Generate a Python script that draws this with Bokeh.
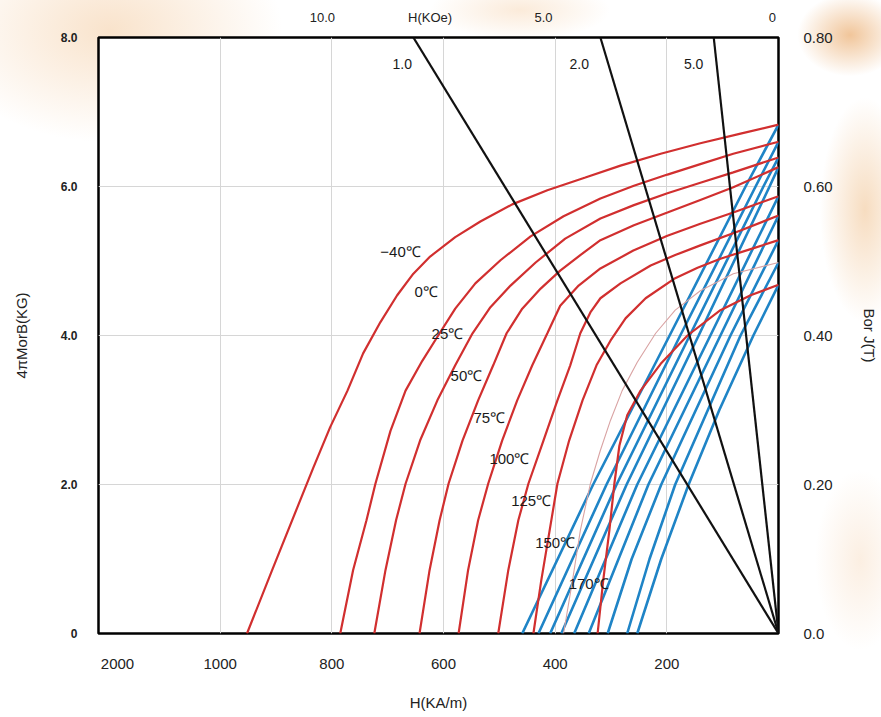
from bokeh.plotting import figure
from bokeh.models import Range1d, LinearAxis, FixedTicker
from bokeh.core.properties import value
from bokeh.embed import file_html
from bokeh.resources import INLINE

# ---------------- data (H in kA/m, J / B in kG) ----------------
temps = ["−40℃", "0℃", "25℃", "50℃", "75℃", "100℃", "125℃", "150℃", "170℃"]

# intrinsic (J) demagnetisation curves, red
j_m40_h = [952, 907, 862, 833, 803, 772, 744, 713, 683, 654, 624, 579, 534, 477, 414, 346, 283, 211, 140, 68, 0]
j_m40_j = [0, 0.85, 1.69, 2.23, 2.77, 3.26, 3.76, 4.18, 4.54, 4.83, 5.06, 5.32, 5.53, 5.76, 5.95, 6.12, 6.28, 6.44, 6.58, 6.71, 6.83]
j_0_h = [785, 762, 738, 722, 695, 668, 638, 607, 579, 543, 498, 444, 385, 319, 259, 199, 140, 81, 0]
j_0_j = [0, 0.85, 1.52, 2.01, 2.72, 3.26, 3.66, 4.03, 4.36, 4.70, 5.01, 5.33, 5.60, 5.84, 6.01, 6.16, 6.30, 6.44, 6.60]
j_25_h = [724, 704, 685, 668, 642, 611, 579, 548, 516, 480, 435, 382, 319, 259, 199, 140, 81, 0]
j_25_j = [0, 0.85, 1.52, 2.01, 2.59, 3.13, 3.60, 4.03, 4.38, 4.67, 4.98, 5.30, 5.57, 5.75, 5.91, 6.05, 6.19, 6.39]
j_50_h = [643, 625, 607, 591, 566, 538, 511, 487, 459, 426, 391, 355, 319, 259, 199, 140, 81, 0]
j_50_j = [0, 0.85, 1.52, 2.01, 2.59, 3.13, 3.60, 4.03, 4.36, 4.63, 4.87, 5.08, 5.28, 5.48, 5.65, 5.82, 5.99, 6.26]
j_75_h = [573, 556, 538, 520, 495, 468, 441, 414, 391, 358, 319, 260, 199, 140, 81, 0]
j_75_j = [0, 0.85, 1.52, 2.01, 2.59, 3.13, 3.60, 4.03, 4.40, 4.67, 4.90, 5.14, 5.34, 5.50, 5.65, 5.87]
j_100_h = [502, 484, 466, 448, 421, 396, 373, 355, 337, 319, 283, 229, 185, 140, 68, 0]
j_100_j = [0, 0.85, 1.52, 2.01, 2.59, 3.13, 3.60, 4.03, 4.31, 4.50, 4.70, 4.94, 5.08, 5.21, 5.41, 5.61]
j_125_h = [439, 425, 410, 396, 375, 351, 326, 301, 274, 238, 185, 145, 104, 50, 0]
j_125_j = [0, 0.71, 1.38, 2.01, 2.59, 3.13, 3.60, 3.93, 4.23, 4.50, 4.77, 4.91, 5.03, 5.16, 5.28]
j_150_h = [385, 369, 355, 337, 319, 301, 280, 253, 220, 185, 140, 81, 0]
j_150_j = [0, 0.71, 1.38, 2.01, 2.46, 2.86, 3.26, 3.64, 4.03, 4.34, 4.60, 4.83, 4.98]
j_170_h = [324, 314, 303, 294, 285, 271, 247, 211, 163, 104, 50, 0]
j_170_j = [0, 0.71, 1.38, 2.01, 2.52, 2.93, 3.26, 3.62, 4.00, 4.34, 4.54, 4.68]

# normal (B) curves, blue
b_m40_h = [0, 59, 195, 332, 459]
b_m40_b = [6.83, 6.0, 4.0, 2.0, 0]
b_0_h = [0, 41, 176, 308, 430]
b_0_b = [6.60, 6.0, 4.0, 2.0, 0]
b_25_h = [0, 27, 159, 290, 409]
b_25_b = [6.39, 6.0, 4.0, 2.0, 0]
b_50_h = [0, 16, 143, 272, 389]
b_50_b = [6.26, 6.0, 4.0, 2.0, 0]
b_75_h = [0, 122, 253, 366]
b_75_b = [5.87, 4.0, 2.0, 0]
b_100_h = [0, 104, 233, 340]
b_100_b = [5.61, 4.0, 2.0, 0]
b_125_h = [0, 86, 210, 263, 306]
b_125_b = [5.28, 4.0, 2.0, 1.0, 0]
b_150_h = [0, 68, 185, 231, 271]
b_150_b = [4.98, 4.0, 2.0, 1.0, 0]
b_170_h = [0, 45, 106, 161, 210, 253]
b_170_b = [4.68, 4.0, 3.0, 2.0, 1.0, 0]

# load lines (permeance coefficients) : H where each line meets 8.0 kG
pc_labels = ["1.0", "2.0", "5.0"]
pc_top_h = [654, 319, 116]

# temperature label anchors (H, J)
label_h = [677, 631, 593, 559, 518, 482, 443, 400, 340]
label_j = [5.13, 4.59, 4.03, 3.46, 2.90, 2.35, 1.79, 1.22, 0.67]
pc_label_h = [674, 357, 152]
pc_label_j = [7.65, 7.65, 7.65]

# axis ticks
x_ticks = [1184, 1000, 800, 600, 400, 200]
x_tick_text = {1184: "2000"}
x_grid = [1000, 800, 600, 400, 200]
top_ticks = [817, 624, 421, 11]
top_tick_text = {817: "10.0", 624: "H(KOe)", 421: "5.0", 11: "0"}
y_ticks = [0, 2, 4, 6, 8]
y_tick_text = {0: "0", 2: "2.0", 4: "4.0", 6: "6.0", 8: "8.0"}
t_ticks = [0, 0.2, 0.4, 0.6, 0.8]
t_tick_text = {0: "0.0", 0.2: "0.20", 0.4: "0.40", 0.6: "0.60", 0.8: "0.80"}

j_curves = [(j_m40_h, j_m40_j), (j_0_h, j_0_j), (j_25_h, j_25_j), (j_50_h, j_50_j),
            (j_75_h, j_75_j), (j_100_h, j_100_j), (j_125_h, j_125_j),
            (j_150_h, j_150_j), (j_170_h, j_170_j)]
b_curves = [(b_m40_h, b_m40_b), (b_0_h, b_0_b), (b_25_h, b_25_b), (b_50_h, b_50_b),
            (b_75_h, b_75_b), (b_100_h, b_100_b), (b_125_h, b_125_b),
            (b_150_h, b_150_b), (b_170_h, b_170_b)]

FONT = "Liberation Sans"

p = figure(width=881, height=717, x_range=Range1d(1218, 0), y_range=Range1d(0, 8),
           output_backend="svg", toolbar_location=None,
           min_border_left=98, min_border_right=103, min_border_top=37, min_border_bottom=84)
p.background_fill_color = "white"
p.border_fill_color = None
p.outline_line_color = "black"
p.outline_line_width = 2.5
p.outline_line_alpha = 1.0
p.styles = {
    "background-color": "#ffffff",
    "background-image": (
        "radial-gradient(ellipse 230px 150px at 110px 30px, rgba(246,212,176,0.65), rgba(255,255,255,0) 75%),"
        "radial-gradient(ellipse 70px 55px at 850px 35px, rgba(236,178,120,0.75), rgba(255,255,255,0) 75%),"
        "radial-gradient(ellipse 60px 150px at 865px 210px, rgba(240,192,140,0.55), rgba(255,255,255,0) 75%),"
        "radial-gradient(ellipse 120px 40px at 520px 10px, rgba(246,210,172,0.45), rgba(255,255,255,0) 75%),"
        "radial-gradient(ellipse 60px 120px at 860px 560px, rgba(246,214,182,0.40), rgba(255,255,255,0) 75%)"
    ),
}

p.xgrid.ticker = FixedTicker(ticks=x_grid)
p.ygrid.ticker = FixedTicker(ticks=[2, 4, 6])
p.xgrid.grid_line_color = "#d6d6d6"
p.ygrid.grid_line_color = "#d6d6d6"
p.xgrid.grid_line_width = 1
p.ygrid.grid_line_width = 1


def style_axis(ax, size="15px", bold=False):
    ax.axis_line_color = None
    ax.major_tick_line_color = None
    ax.minor_tick_line_color = None
    ax.major_tick_out = 0
    ax.major_tick_in = 0
    ax.major_label_text_font = FONT
    ax.major_label_text_font_size = size
    ax.major_label_text_color = "#222222"
    if bold:
        ax.major_label_text_font_style = "bold"
    ax.axis_label_text_font = FONT
    ax.axis_label_text_font_size = "15px"
    ax.axis_label_text_font_style = "normal"
    ax.axis_label_text_color = "#222222"


xa = p.xaxis[0]
xa.ticker = FixedTicker(ticks=x_ticks)
xa.major_label_overrides = x_tick_text
xa.axis_label = "H(KA/m)"
style_axis(xa, "15px")
xa.major_label_standoff = 25
xa.axis_label_standoff = 22

ya = p.yaxis[0]
ya.ticker = FixedTicker(ticks=y_ticks)
ya.major_label_overrides = y_tick_text
ya.axis_label = "4πMorB(KG)"
style_axis(ya, "12px", bold=True)
ya.major_label_standoff = 21
ya.axis_label_standoff = 28

p.extra_y_ranges = {"T": Range1d(0, 0.8)}
ra = LinearAxis(y_range_name="T", ticker=FixedTicker(ticks=t_ticks),
                major_label_overrides=t_tick_text, axis_label="Bor J(T)")
style_axis(ra, "15px")
ra.major_label_standoff = 25
ra.axis_label_standoff = 25
p.add_layout(ra, "right")

ta = LinearAxis(ticker=FixedTicker(ticks=top_ticks), major_label_overrides=top_tick_text)
style_axis(ta, "13px")
ta.major_label_standoff = 13
p.add_layout(ta, "above")

# blue normal curves
for h, b in b_curves:
    p.line(h, b, line_color="#1f84c6", line_width=2.6)

# red intrinsic curves (150 ℃ drawn thin and pale as in the original)
for i, (h, j) in enumerate(j_curves):
    if i == 7:
        p.line(h, j, line_color="#d9a3a3", line_width=1.1)
    else:
        p.line(h, j, line_color="#d12f2f", line_width=2.2)

# load lines from the origin
p.segment(x0=[0] * len(pc_top_h), y0=[0] * len(pc_top_h), x1=pc_top_h, y1=[8] * len(pc_top_h),
          line_color="#111111", line_width=2.2)

p.text(x=pc_label_h, y=pc_label_j, text=pc_labels, text_align="center", text_baseline="middle",
       text_font=value(FONT), text_font_size="14px", text_color="#1a1a1a")
p.text(x=label_h, y=label_j, text=temps, text_align="center", text_baseline="middle",
       text_font=value(FONT), text_font_size="15px", text_color="#1a1a1a")

open("out.html", "w").write(file_html(p, INLINE))
